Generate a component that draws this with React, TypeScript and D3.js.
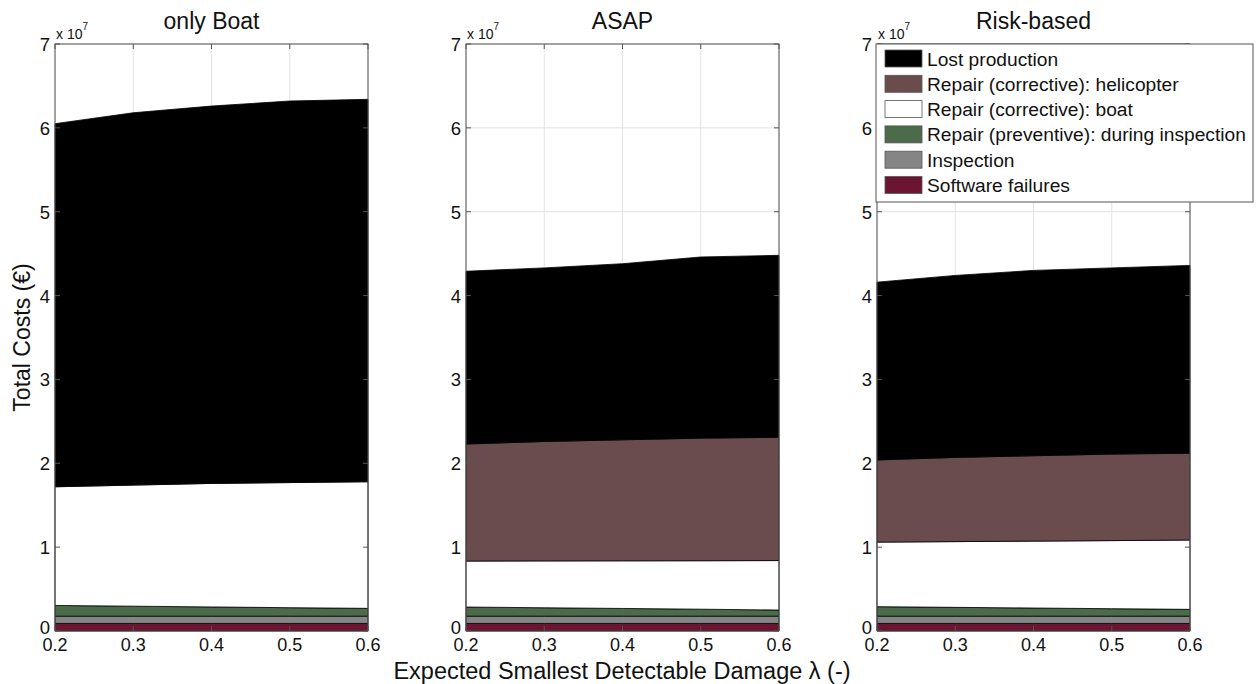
import React from "react";
import * as d3 from "d3";

const W = 1257;
const H = 684;
const FONT = "'Liberation Sans', Arial, sans-serif";

const xValues = [0.2, 0.3, 0.4, 0.5, 0.6];
const xTicks = [0.2, 0.3, 0.4, 0.5, 0.6];
const yTicks = [0, 1, 2, 3, 4, 5, 6, 7];
const panelTitles = ["only Boat", "ASAP", "Risk-based"];

// layer keys, bottom to top of the stack
const layerKeys = ["software", "inspection", "preventive", "boat", "helicopter", "lost"];
const layerLabels = [
  "Software failures",
  "Inspection",
  "Repair (preventive): during inspection",
  "Repair (corrective): boat",
  "Repair (corrective): helicopter",
  "Lost production",
];
const layerColors = ["#6b1532", "#858585", "#4b6b4b", "#ffffff", "#6b4c4e", "#000000"];

// values in units of 1e7 EUR
const boatSoftware = [0.09, 0.09, 0.09, 0.09, 0.09];
const boatInspection = [0.087, 0.087, 0.087, 0.087, 0.087];
const boatPreventive = [0.128, 0.119, 0.11, 0.101, 0.093];
const boatBoat = [1.415, 1.444, 1.473, 1.492, 1.51];
const boatHeli = [0, 0, 0, 0, 0];
const boatLost = [4.33, 4.44, 4.5, 4.55, 4.56];

const asapSoftware = [0.09, 0.09, 0.09, 0.09, 0.09];
const asapInspection = [0.087, 0.087, 0.087, 0.087, 0.087];
const asapPreventive = [0.109, 0.1, 0.092, 0.083, 0.073];
const asapBoat = [0.548, 0.559, 0.568, 0.578, 0.59];
const asapHeli = [1.396, 1.424, 1.443, 1.462, 1.47];
const asapLost = [2.06, 2.07, 2.1, 2.16, 2.17];

const riskSoftware = [0.09, 0.09, 0.09, 0.09, 0.09];
const riskInspection = [0.087, 0.087, 0.087, 0.087, 0.087];
const riskPreventive = [0.113, 0.105, 0.097, 0.089, 0.081];
const riskBoat = [0.77, 0.784, 0.798, 0.812, 0.827];
const riskHeli = [0.98, 1.004, 1.018, 1.032, 1.035];
const riskLost = [2.12, 2.17, 2.21, 2.22, 2.24];

const panelSeries = [
  [boatSoftware, boatInspection, boatPreventive, boatBoat, boatHeli, boatLost],
  [asapSoftware, asapInspection, asapPreventive, asapBoat, asapHeli, asapLost],
  [riskSoftware, riskInspection, riskPreventive, riskBoat, riskHeli, riskLost],
];

const panelLeft = [55, 466, 877];
const panelWidth = 313;
const plotTop = 44;
const plotBottom = 631;

function Panel({ idx }: { idx: number }) {
  const left = panelLeft[idx];
  const right = left + panelWidth;
  const x = d3.scaleLinear().domain([0.2, 0.6]).range([left, right]);
  const y = d3.scaleLinear().domain([0, 7]).range([plotBottom, plotTop]);

  const rows = xValues.map((xv, i) => {
    const r: any = { x: xv };
    layerKeys.forEach((k, j) => (r[k] = panelSeries[idx][j][i]));
    return r;
  });
  const stacked = d3.stack().keys(layerKeys)(rows);
  const area = d3
    .area<any>()
    .x((d) => x(d.data.x))
    .y0((d) => y(d[0]))
    .y1((d) => y(d[1]));

  const tickLen = 5;
  return (
    <g>
      <rect x={left} y={plotTop} width={panelWidth} height={plotBottom - plotTop} fill="#fff" />
      {xTicks.map((t) => (
        <line key={"gx" + t} x1={x(t)} x2={x(t)} y1={plotTop} y2={plotBottom} stroke="#e3e3e3" strokeWidth={1} />
      ))}
      {yTicks.map((t) => (
        <line key={"gy" + t} x1={left} x2={right} y1={y(t)} y2={y(t)} stroke="#e3e3e3" strokeWidth={1} />
      ))}
      {stacked.map((s, j) =>
        d3.max(panelSeries[idx][j]) === 0 ? null : (
          <path key={s.key} d={area(s as any) || ""} fill={layerColors[j]} stroke="#000" strokeWidth={0.8} />
        )
      )}
      <rect x={left} y={plotTop} width={panelWidth} height={plotBottom - plotTop} fill="none" stroke="#555" strokeWidth={1} />
      {xTicks.map((t) => (
        <g key={"tx" + t}>
          <line x1={x(t)} x2={x(t)} y1={plotBottom} y2={plotBottom - tickLen} stroke="#555" />
          <line x1={x(t)} x2={x(t)} y1={plotTop} y2={plotTop + tickLen} stroke="#555" />
          <text x={x(t)} y={651} textAnchor="middle" fontSize={18} fontFamily={FONT} fill="#111">
            {t.toFixed(1)}
          </text>
        </g>
      ))}
      {yTicks.map((t) => (
        <g key={"ty" + t}>
          <line x1={left} x2={left + tickLen} y1={y(t)} y2={y(t)} stroke="#555" />
          <line x1={right} x2={right - tickLen} y1={y(t)} y2={y(t)} stroke="#555" />
          <text x={left - 5} y={y(t) + (t === 0 ? 3 : 7)} textAnchor="end" fontSize={18.5} fontFamily={FONT} fill="#111">
            {t}
          </text>
        </g>
      ))}
      <text x={left + 1} y={39} fontSize={14} fontFamily={FONT} fill="#111">
        x 10
        <tspan dy={-9} fontSize={10}>7</tspan>
      </text>
      <text x={(left + right) / 2} y={29} textAnchor="middle" fontSize={23} fontFamily={FONT} fill="#111">
        {panelTitles[idx]}
      </text>
    </g>
  );
}

function Legend() {
  const lx = 876;
  const ly = 44;
  const rowH = 25.3;
  const order = [5, 4, 3, 2, 1, 0];
  return (
    <g>
      <rect x={lx} y={ly} width={377} height={158} fill="#fff" stroke="#555" strokeWidth={1} />
      {order.map((j, i) => (
        <g key={j}>
          <rect x={885} y={50 + i * rowH} width={37} height={17} fill={layerColors[j]} stroke="#555" strokeWidth={0.8} />
          <text x={927} y={65.5 + i * rowH} fontSize={19.2} fontFamily={FONT} fill="#111">
            {layerLabels[j]}
          </text>
        </g>
      ))}
    </g>
  );
}

export default function App() {
  return (
    <svg
      width={W}
      height={H}
      style={{ position: "absolute", left: 0, top: 0, background: "#fff" }}
    >
      <rect width={W} height={H} fill="#fff" />
      {[0, 1, 2].map((i) => (
        <Panel key={i} idx={i} />
      ))}
      <Legend />
      <text
        transform={`translate(30,${(plotTop + plotBottom) / 2}) rotate(-90)`}
        textAnchor="middle"
        fontSize={23}
        fontFamily={FONT}
        fill="#111"
      >
        Total Costs (€)
      </text>
      <text x={622} y={679} textAnchor="middle" fontSize={23.5} fontFamily={FONT} fill="#111">
        Expected Smallest Detectable Damage λ (-)
      </text>
    </svg>
  );
}
